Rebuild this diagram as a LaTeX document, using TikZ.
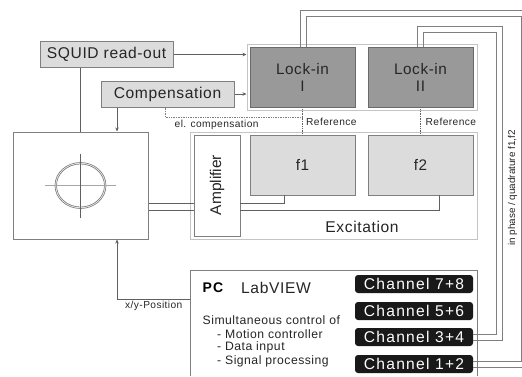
\documentclass[tikz,border=0pt]{standalone}
\usepackage{fontspec}
\setmainfont{Liberation Sans}
\newfontfamily\spc[LetterSpace=4]{Liberation Sans}
\newfontfamily\spw[LetterSpace=8]{Liberation Sans}
\definecolor{boxline}{HTML}{7F7F7F}
\definecolor{boxfill}{HTML}{DCDCDC}
\definecolor{lockfill}{HTML}{999999}
\definecolor{lockline}{HTML}{6A6A6A}
\definecolor{groupline}{HTML}{C4C4C4}
\definecolor{wire}{HTML}{606060}
\definecolor{txt}{HTML}{262626}
\usetikzlibrary{arrows.meta}
\tikzset{
  x=1pt,y=-1pt,
  fsl/.style={font=\fontsize{15.6}{18}\spc,text=txt,inner sep=0pt},
  fsm/.style={font=\fontsize{12.2}{14}\spc,text=txt,inner sep=0pt},
  fss/.style={font=\fontsize{10.2}{12}\spc,text=txt,inner sep=0pt},
  grayb/.style={draw=boxline,line width=1pt,fill=boxfill,minimum width=133pt,minimum height=26pt,fsl},
  lockbox/.style={draw=lockline,line width=.8pt,fill=lockfill,inner sep=0pt,minimum width=105pt,minimum height=60pt,align=center,font=\fontsize{15.3}{17}\spc,text=txt},
  genbox/.style={draw=boxline,line width=.8pt,fill=boxfill,inner sep=0pt,minimum width=105pt,minimum height=60pt,font=\fontsize{15.3}{17}\spc,text=txt},
  group/.style={draw=groupline,line width=1pt,fill=white,inner sep=0pt},
  chan/.style={fill=black!90,rounded corners=3pt,inner sep=0pt,minimum width=118pt,minimum height=18pt,text=white,font=\fontsize{15.6}{18}\spw},
  wireline/.style={draw=wire,line width=.7pt},
  tripline/.style={draw=boxline,line width=1pt},
  tip/.style={-{Stealth[length=4pt,width=3.5pt]}},
}
\begin{document}
\begin{tikzpicture}
\useasboundingbox (0,0) rectangle (522,376);
\clip (0,0) rectangle (522,376);
% groups
\node[group,minimum width=230pt,minimum height=66pt] (lockgroup) at (362,77) {};
\node[group,minimum width=287pt,minimum height=107pt] (excgroup) at (333.5,186) {};
% main box and PC box
\node[draw=boxline,line width=1pt,fill=white,minimum width=135pt,minimum height=107pt,inner sep=0pt] (stage) at (80.5,185.5) {};
\draw[draw=boxline,line width=1pt,fill=white] (190,376) -- (190,270.5) -- (477,270.5) -- (477,376);
% boxes
\node[grayb] (squid) at (106.5,54.5) {SQUID read-out};
\node[grayb] (comp) at (167.5,94) {Compensation};
\node[lockbox] (l1) at (302.5,77) {Lock-in\\I};
\node[lockbox] (l2) at (420.5,77) {Lock-in\\II};
\node[genbox] (f1) at (302.5,165) {f1};
\node[genbox] (f2) at (420.5,165) {f2};
\node[draw=boxline,line width=.8pt,fill=white,minimum width=46pt,minimum height=101pt,inner sep=0pt] (amp) at (217,185.5) {};
\node[rotate=90,font=\fontsize{15.5}{18}\selectfont,text=txt,inner sep=0pt] (amplabel) at (217,185) {Amplifier};
\node[fsl] (exc) at (362,226.5) {Excitation};
% channels
\node[chan] (c78) at (414,284) {Channel 7+8};
\node[chan] (c56) at (414,311) {Channel 5+6};
\node[chan] (c34) at (414,337) {Channel 3+4};
\node[chan] (c12) at (414,364) {Channel 1+2};
% coordinates
\coordinate (s1) at (80,67);
\coordinate (xy) at (117,299);
\coordinate (dotA) at (165,117);
% connectors
\draw[wireline] (squid.south -| s1) -- (stage.north -| s1);
\draw[wireline,tip] (squid.east) -- (lockgroup.west |- squid.east);
\draw[wireline,tip] (comp.east) -- (lockgroup.west |- comp.east);
\draw[wireline,tip] (comp.south -| xy) -- (stage.north -| xy);
\draw[wireline,tip] (190,299) -- (xy) -- (stage.south -| xy);
\draw[draw=boxline,line width=.7pt,densely dotted] (comp.south -| dotA) -- (dotA) -- (l1.south |- dotA);
\draw[wireline,densely dotted,line width=.6pt] (l1.south) -- (f1.north);
\draw[wireline,densely dotted,line width=.6pt] (l2.south) -- (f2.north);
\node[fss,anchor=west] (elc) at (174.5,125) {el. compensation};
\node[fss,anchor=west] (r1) at (306,122) {Reference};
\node[fss,anchor=west] (r2) at (425.5,122) {Reference};
\node[fss,anchor=west] (xyl) at (125,306) {x/y-Position};
% stage to amplifier
\draw[wireline] (stage.east |- 0,203) -- (amp.west |- 0,203);
\draw[wireline] (stage.east |- 0,210) -- (amp.west |- 0,210);
\draw[wireline] (amp.east |- 0,203) -- (284.5,203) -- (f1.south -| 284.5,0);
\draw[wireline] (amp.east |- 0,210) -- (439,210) -- (f2.south -| 439,0);
% ring
\draw[draw=boxline,line width=.7pt] (80.5,185.5) ellipse [x radius=25.5,y radius=23];
\draw[draw=boxline,line width=.7pt] (80.5,185.5) ellipse [x radius=24,y radius=21.5];
\draw[draw=black!35,line width=1.2pt] (45,185.7) -- (116,185.7);
\draw[wireline] (80.5,153.5) -- (80.5,218);
% signal lines
\draw[tripline] (c12.east |- 0,367) -- (530,367) -- (530,10) -- (300,10) -- (l1.north -| 300,0);
\draw[tripline] (c12.east |- 0,361) -- (521,361) -- (521,16) -- (306,16) -- (l1.north -| 306,0);
\draw[tripline] (c34.east |- 0,340) -- (502,340) -- (502,26) -- (417,26) -- (l2.north -| 417,0);
\draw[tripline] (c34.east |- 0,334) -- (496.5,334) -- (496.5,32) -- (423,32) -- (l2.north -| 423,0);
\node[rotate=90,font=\fontsize{9.9}{12}\selectfont,text=txt,inner sep=0pt] (iq) at (512.5,188) {in phase / quadrature f1,f2};
% PC text
\node[font=\fontsize{14}{16}\spw\bfseries,text=black,anchor=west,inner sep=0pt] (pc) at (202.5,287.5) {PC};
\node[fsl,anchor=west] (lv) at (241,287.5) {LabVIEW};
\node[fsm,anchor=west] (t1) at (202.5,320.5) {Simultaneous control of};
\node[fsm,anchor=west] (t2) at (217,334) {- Motion controller};
\node[fsm,anchor=west] (t3) at (217,347.5) {- Data input};
\node[fsm,anchor=west] (t4) at (217,361) {- Signal processing};
\end{tikzpicture}
\end{document}
